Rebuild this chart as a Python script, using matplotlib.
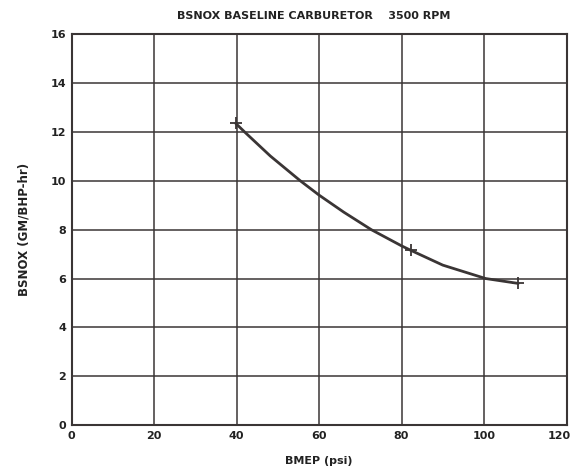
import matplotlib
matplotlib.use("Agg")
import matplotlib.pyplot as plt
import matplotlib.transforms as mtransforms

# values
bmep_marks = [39.8, 82.2, 108.3]
bsnox_marks = [12.36, 7.16, 5.80]

# points
bmep_curve = [39.8, 42.0, 48.2, 55.5, 60.0, 66.0, 72.7, 80.0, 82.2, 90.0, 100.4, 108.3]
bsnox_curve = [12.36, 12.0, 11.02, 10.0, 9.42, 8.72, 8.0, 7.34, 7.16, 6.55, 6.0, 5.80]

x_ticks = [0, 20, 40, 60, 80, 100, 120]
y_ticks = [0, 2, 4, 6, 8, 10, 12, 14, 16]

ink = "#3a3535"
plt.rcParams["font.family"] = ["DejaVu Sans"]
plt.rcParams["font.weight"] = "bold"

fig = plt.figure(figsize=(5.73, 4.71), dpi=100)
ax = fig.add_axes([0.1248, 0.0977, 0.8639, 0.8291])

ax.plot(bmep_curve, bsnox_curve, color=ink, lw=2.0, solid_capstyle="round", solid_joinstyle="round")
ax.plot(bmep_marks, bsnox_marks, ls="none", marker="+", ms=9, mew=1.3, color=ink)

ax.set_xlim(0, 120)
ax.set_ylim(0, 16)
ax.set_xticks(x_ticks)
ax.set_yticks(y_ticks)
ax.grid(True, color=ink, lw=1.1)
ax.tick_params(length=0, labelsize=8, colors="#222222", pad=4)
for lbl in ax.get_xticklabels() + ax.get_yticklabels():
    lbl.set_fontweight("bold")
# last x label sits against the right edge of the page
last = ax.get_xticklabels()[-1]
last.set_horizontalalignment("right")
last.set_transform(last.get_transform() + mtransforms.ScaledTranslation(4 / 100, 0, fig.dpi_scale_trans))
for s in ax.spines.values():
    s.set_color(ink)
    s.set_linewidth(1.5)

ax.set_xlabel("BMEP (psi)", fontsize=8, fontweight="bold", color="#222222", labelpad=11)
ax.set_ylabel("BSNOX (GM/BHP-hr)", fontsize=8.5, fontweight="bold", color="#222222", labelpad=14)
fig.text(0.548, 0.967, "BSNOX BASELINE CARBURETOR    3500 RPM", ha="center", va="center",
         fontsize=8, fontweight="bold", color="#222222")

fig.savefig("out.png", dpi=100)
